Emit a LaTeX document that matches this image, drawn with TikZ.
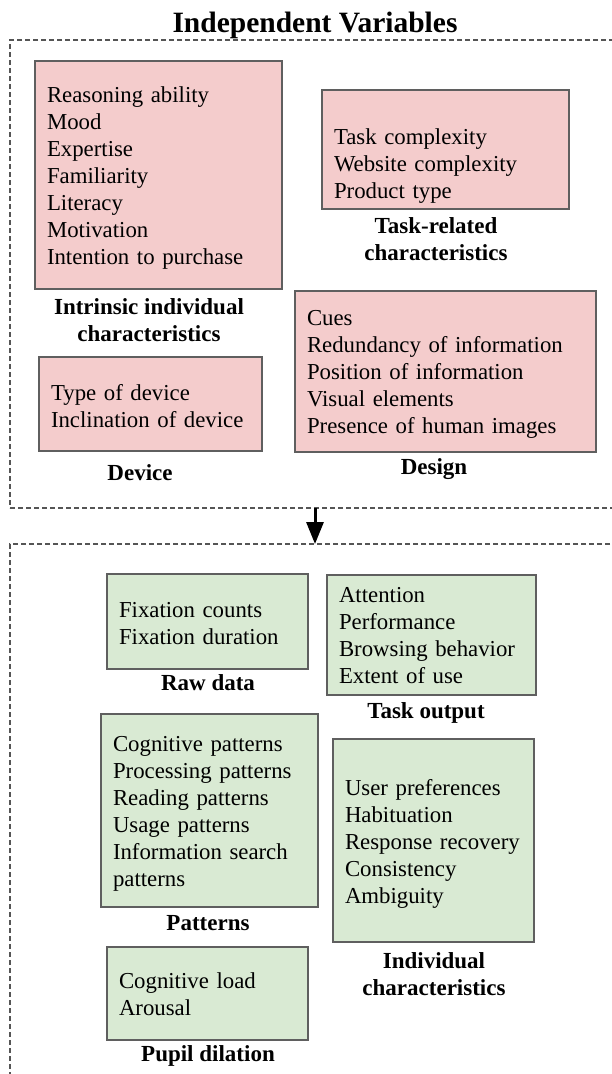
\documentclass[tikz,border=0pt]{standalone}
\usepackage{fontspec}
\setmainfont{Liberation Serif}
\usetikzlibrary{arrows.meta}
\definecolor{pinkfill}{HTML}{F4CCCC}
\definecolor{greenfill}{HTML}{D9EAD3}
\definecolor{boxline}{HTML}{5F5F5F}
\definecolor{dashline}{HTML}{555555}
\tikzset{
  body/.style={font=\fontsize{22.8}{27}\selectfont},
  itembox/.style={body, draw=boxline, line width=1.3pt, anchor=north west,
    inner xsep=12pt, inner ysep=0pt, outer sep=0pt, align=left},
  pinkbox/.style={itembox, fill=pinkfill},
  greenbox/.style={itembox, fill=greenfill},
  lab/.style={font=\fontsize{23}{27}\selectfont\bfseries, anchor=base, align=center, inner sep=0pt},
  frame/.style={draw=dashline, line width=1.2pt, dash pattern=on 5pt off 3pt,
    anchor=north west, inner sep=0pt, outer sep=0pt},
  arr/.style={line width=3pt, -{Triangle[width=17pt,length=22pt]}}
}
\newcommand{\firsth}[1]{\rule{0pt}{#1pt}}
\newcommand{\lastd}{\rule[-6pt]{0pt}{6pt}}
\begin{document}
\begin{tikzpicture}[x=1pt,y=-1pt]
\useasboundingbox (0,0) rectangle (612,1074);
\clip (0,0) rectangle (612,1074);

\node[font=\fontsize{29.5}{32}\selectfont\bfseries, anchor=base, inner sep=0pt] (title) at (315,32) {Independent Variables};

\node[frame, minimum width=640pt, minimum height=468pt] (indep) at (10,40) {};
\node[frame, minimum width=640pt, minimum height=600pt] (dep) at (10,544) {};

% independent variables
\node[pinkbox, minimum width=247pt, minimum height=228pt, text width=223pt] (intr) at (35,61)
  {\firsth{22}Reasoning ability\\Mood\\Expertise\\Familiarity\\Literacy\\Motivation\\Intention to purchase\lastd};
\node[lab] (intrlab) at (149,341) {Intrinsic individual\\characteristics};

\node[pinkbox, minimum width=247pt, minimum height=119pt, text width=223pt] (task) at (322,90)
  {\firsth{49}Task complexity\\Website complexity\\Product type\lastd};
\node[lab] (tasklab) at (436,260) {Task-related\\characteristics};

\node[pinkbox, minimum width=223pt, minimum height=94pt, text width=199pt] (dev) at (39,357)
  {\firsth{25}Type of device\\Inclination of device\lastd};
\node[lab] (devlab) at (140,480) {Device};

\node[pinkbox, minimum width=301pt, minimum height=161pt, text width=277pt] (des) at (295,291)
  {\firsth{21}Cues\\Redundancy of information\\Position of information\\Visual elements\\Presence of human images\lastd};
\node[lab] (deslab) at (434,474) {Design};

% arrow
\coordinate (arrS) at (315,508);
\coordinate (arrE) at (315,544);
\draw[arr] (arrS) -- (arrE);

% dependent variables
\node[greenbox, minimum width=201pt, minimum height=95pt, text width=177pt] (raw) at (107,574)
  {\firsth{24}Fixation counts\\Fixation duration\lastd};
\node[lab] (rawlab) at (208,690) {Raw data};

\node[greenbox, minimum width=209pt, minimum height=120pt, text width=185pt] (out) at (327,575)
  {\firsth{22}Attention\\Performance\\Browsing behavior\\Extent of use\lastd};
\node[lab] (outlab) at (426,718) {Task output};

\node[greenbox, minimum width=217pt, minimum height=193pt, text width=193pt] (pat) at (101,714)
  {\firsth{23}Cognitive patterns\\Processing patterns\\Reading patterns\\Usage patterns\\Information search\\patterns\lastd};
\node[lab] (patlab) at (208,930) {Patterns};

\node[greenbox, minimum width=201pt, minimum height=203pt, text width=177pt] (ind) at (333,739)
  {\firsth{23}User preferences\\Habituation\\Response recovery\\Consistency\\Ambiguity\lastd};
\node[lab] (indlab) at (434,995) {Individual\\characteristics};

\node[greenbox, minimum width=201pt, minimum height=93pt, text width=177pt] (pup) at (107,947)
  {\firsth{22}Cognitive load\\Arousal\lastd};
\node[lab] (puplab) at (208,1061) {Pupil dilation};
\end{tikzpicture}
\end{document}
